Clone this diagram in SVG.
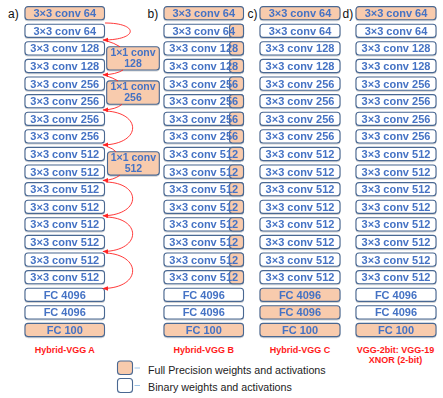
<svg xmlns="http://www.w3.org/2000/svg" width="443" height="398" viewBox="0 0 443 398">
<defs>
<style>
.b{fill:#ffffff;stroke:#4a6892;stroke-width:1.1}
.o{fill:#f8cbad;stroke:#4a6892;stroke-width:1.1}
.t{font-family:"Liberation Sans",Arial,sans-serif;font-weight:bold;font-size:11px;fill:#4472c4;text-anchor:middle}
.s{font-size:10.5px}
.lab{font-family:"Liberation Sans",Arial,sans-serif;font-size:12px;fill:#111}
.ttl{font-family:"Liberation Sans",Arial,sans-serif;font-weight:bold;font-size:9px;fill:#ff1a1a;text-anchor:middle}
.leg{font-family:"Liberation Sans",Arial,sans-serif;font-size:10.7px;fill:#222}
.c{fill:none;stroke:#f22;stroke-width:0.9}
.d{stroke:#9dc3e6;stroke-width:1}
</style>
<filter id="sh" x="-10%" y="-20%" width="120%" height="150%"><feDropShadow dx="0" dy="0.8" stdDeviation="0.6" flood-color="#000" flood-opacity="0.22"/></filter>
<marker id="ah" viewBox="0 0 10 10" refX="9" refY="5" markerWidth="6" markerHeight="6" markerUnits="userSpaceOnUse" orient="auto"><path d="M0,1 L10,5 L0,9z" fill="#f22"/></marker>
</defs>
<rect width="443" height="398" fill="#fff"/>
<text class="lab" x="8" y="17.5">a)</text>
<text class="lab" x="147.5" y="17.5">b)</text>
<text class="lab" x="247.5" y="17.5">c)</text>
<text class="lab" x="342.5" y="17.5">d)</text>

<g id="colA" filter="url(#sh)">
<g id="a0"><rect class="o" x="25" y="6.6" width="79.5" height="13.2" rx="3"/><text class="t" x="64.75" y="17.1">3×3 conv 64</text></g>
<g id="a1"><rect class="b" x="25" y="24.2" width="79.5" height="13.2" rx="3"/><text class="t" x="64.75" y="34.7">3×3 conv 64</text></g>
<g id="a2"><rect class="b" x="25" y="41.8" width="79.5" height="13.2" rx="3"/><text class="t" x="64.75" y="52.3">3×3 conv 128</text></g>
<g id="a3"><rect class="b" x="25" y="59.4" width="79.5" height="13.2" rx="3"/><text class="t" x="64.75" y="69.9">3×3 conv 128</text></g>
<g id="a4"><rect class="b" x="25" y="77" width="79.5" height="13.2" rx="3"/><text class="t" x="64.75" y="87.5">3×3 conv 256</text></g>
<g id="a5"><rect class="b" x="25" y="94.6" width="79.5" height="13.2" rx="3"/><text class="t" x="64.75" y="105.1">3×3 conv 256</text></g>
<g id="a6"><rect class="b" x="25" y="112.2" width="79.5" height="13.2" rx="3"/><text class="t" x="64.75" y="122.7">3×3 conv 256</text></g>
<g id="a7"><rect class="b" x="25" y="129.8" width="79.5" height="13.2" rx="3"/><text class="t" x="64.75" y="140.3">3×3 conv 256</text></g>
<g id="a8"><rect class="b" x="25" y="147.4" width="79.5" height="13.2" rx="3"/><text class="t" x="64.75" y="157.9">3×3 conv 512</text></g>
<g id="a9"><rect class="b" x="25" y="165" width="79.5" height="13.2" rx="3"/><text class="t" x="64.75" y="175.5">3×3 conv 512</text></g>
<g id="a10"><rect class="b" x="25" y="182.6" width="79.5" height="13.2" rx="3"/><text class="t" x="64.75" y="193.1">3×3 conv 512</text></g>
<g id="a11"><rect class="b" x="25" y="200.2" width="79.5" height="13.2" rx="3"/><text class="t" x="64.75" y="210.7">3×3 conv 512</text></g>
<g id="a12"><rect class="b" x="25" y="217.8" width="79.5" height="13.2" rx="3"/><text class="t" x="64.75" y="228.3">3×3 conv 512</text></g>
<g id="a13"><rect class="b" x="25" y="235.4" width="79.5" height="13.2" rx="3"/><text class="t" x="64.75" y="245.9">3×3 conv 512</text></g>
<g id="a14"><rect class="b" x="25" y="253" width="79.5" height="13.2" rx="3"/><text class="t" x="64.75" y="263.5">3×3 conv 512</text></g>
<g id="a15"><rect class="b" x="25" y="270.6" width="79.5" height="13.2" rx="3"/><text class="t" x="64.75" y="281.1">3×3 conv 512</text></g>
<g id="a16"><rect class="b" x="25" y="288.2" width="79.5" height="13.2" rx="3"/><text class="t" x="64.75" y="298.7">FC 4096</text></g>
<g id="a17"><rect class="b" x="25" y="305.8" width="79.5" height="13.2" rx="3"/><text class="t" x="64.75" y="316.3">FC 4096</text></g>
<g id="a18"><rect class="o" x="25" y="323.4" width="79.5" height="13.2" rx="3"/><text class="t" x="64.75" y="333.9">FC 100</text></g>
<g id="p128"><rect class="o" x="106.7" y="46.7" width="52.6" height="23.3" rx="3"/><text class="t s" x="133" y="55.6">1×1 conv</text><text class="t s" x="133" y="67.1">128</text></g>
<g id="p256"><rect class="o" x="106.7" y="80.9" width="52.6" height="23.4" rx="3"/><text class="t s" x="133" y="89.8">1×1 conv</text><text class="t s" x="133" y="101.3">256</text></g>
<g id="p512"><rect class="o" x="107.5" y="151.8" width="51.8" height="23.3" rx="3"/><text class="t s" x="133.4" y="160.7">1×1 conv</text><text class="t s" x="133.4" y="172.2">512</text></g>
</g>

<g id="colB" filter="url(#sh)">
<g id="b0"><rect class="o" x="164" y="6.6" width="79.5" height="13.2" rx="3"/><text class="t" x="203.75" y="17.1">3×3 conv 64</text></g>
<g id="b1"><rect class="b" x="164" y="24.2" width="79.5" height="13.2" rx="3"/><rect class="o" x="229.5" y="24.2" width="14" height="13.2" rx="3"/><text class="t" x="203.75" y="34.7">3×3 conv 64</text></g>
<g id="b2"><rect class="b" x="164" y="41.8" width="79.5" height="13.2" rx="3"/><rect class="o" x="229.5" y="41.8" width="14" height="13.2" rx="3"/><text class="t" x="203.75" y="52.3">3×3 conv 128</text></g>
<g id="b3"><rect class="b" x="164" y="59.4" width="79.5" height="13.2" rx="3"/><rect class="o" x="229.5" y="59.4" width="14" height="13.2" rx="3"/><text class="t" x="203.75" y="69.9">3×3 conv 128</text></g>
<g id="b4"><rect class="b" x="164" y="77" width="79.5" height="13.2" rx="3"/><rect class="o" x="229.5" y="77" width="14" height="13.2" rx="3"/><text class="t" x="203.75" y="87.5">3×3 conv 256</text></g>
<g id="b5"><rect class="b" x="164" y="94.6" width="79.5" height="13.2" rx="3"/><rect class="o" x="229.5" y="94.6" width="14" height="13.2" rx="3"/><text class="t" x="203.75" y="105.1">3×3 conv 256</text></g>
<g id="b6"><rect class="b" x="164" y="112.2" width="79.5" height="13.2" rx="3"/><rect class="o" x="229.5" y="112.2" width="14" height="13.2" rx="3"/><text class="t" x="203.75" y="122.7">3×3 conv 256</text></g>
<g id="b7"><rect class="b" x="164" y="129.8" width="79.5" height="13.2" rx="3"/><rect class="o" x="229.5" y="129.8" width="14" height="13.2" rx="3"/><text class="t" x="203.75" y="140.3">3×3 conv 256</text></g>
<g id="b8"><rect class="b" x="164" y="147.4" width="79.5" height="13.2" rx="3"/><rect class="o" x="229.5" y="147.4" width="14" height="13.2" rx="3"/><text class="t" x="203.75" y="157.9">3×3 conv 512</text></g>
<g id="b9"><rect class="b" x="164" y="165" width="79.5" height="13.2" rx="3"/><rect class="o" x="229.5" y="165" width="14" height="13.2" rx="3"/><text class="t" x="203.75" y="175.5">3×3 conv 512</text></g>
<g id="b10"><rect class="b" x="164" y="182.6" width="79.5" height="13.2" rx="3"/><rect class="o" x="229.5" y="182.6" width="14" height="13.2" rx="3"/><text class="t" x="203.75" y="193.1">3×3 conv 512</text></g>
<g id="b11"><rect class="b" x="164" y="200.2" width="79.5" height="13.2" rx="3"/><rect class="o" x="229.5" y="200.2" width="14" height="13.2" rx="3"/><text class="t" x="203.75" y="210.7">3×3 conv 512</text></g>
<g id="b12"><rect class="b" x="164" y="217.8" width="79.5" height="13.2" rx="3"/><rect class="o" x="229.5" y="217.8" width="14" height="13.2" rx="3"/><text class="t" x="203.75" y="228.3">3×3 conv 512</text></g>
<g id="b13"><rect class="b" x="164" y="235.4" width="79.5" height="13.2" rx="3"/><rect class="o" x="229.5" y="235.4" width="14" height="13.2" rx="3"/><text class="t" x="203.75" y="245.9">3×3 conv 512</text></g>
<g id="b14"><rect class="b" x="164" y="253" width="79.5" height="13.2" rx="3"/><rect class="o" x="229.5" y="253" width="14" height="13.2" rx="3"/><text class="t" x="203.75" y="263.5">3×3 conv 512</text></g>
<g id="b15"><rect class="b" x="164" y="270.6" width="79.5" height="13.2" rx="3"/><rect class="o" x="229.5" y="270.6" width="14" height="13.2" rx="3"/><text class="t" x="203.75" y="281.1">3×3 conv 512</text></g>
<g id="b16"><rect class="b" x="164" y="288.2" width="79.5" height="13.2" rx="3"/><text class="t" x="203.75" y="298.7">FC 4096</text></g>
<g id="b17"><rect class="b" x="164" y="305.8" width="79.5" height="13.2" rx="3"/><text class="t" x="203.75" y="316.3">FC 4096</text></g>
<g id="b18"><rect class="o" x="164" y="323.4" width="79.5" height="13.2" rx="3"/><text class="t" x="203.75" y="333.9">FC 100</text></g>
</g>

<g id="colC" filter="url(#sh)">
<g id="c0"><rect class="o" x="260" y="6.6" width="80" height="13.2" rx="3"/><text class="t" x="300" y="17.1">3×3 conv 64</text></g>
<g id="c1"><rect class="b" x="260" y="24.2" width="80" height="13.2" rx="3"/><text class="t" x="300" y="34.7">3×3 conv 64</text></g>
<g id="c2"><rect class="b" x="260" y="41.8" width="80" height="13.2" rx="3"/><text class="t" x="300" y="52.3">3×3 conv 128</text></g>
<g id="c3"><rect class="b" x="260" y="59.4" width="80" height="13.2" rx="3"/><text class="t" x="300" y="69.9">3×3 conv 128</text></g>
<g id="c4"><rect class="b" x="260" y="77" width="80" height="13.2" rx="3"/><text class="t" x="300" y="87.5">3×3 conv 256</text></g>
<g id="c5"><rect class="b" x="260" y="94.6" width="80" height="13.2" rx="3"/><text class="t" x="300" y="105.1">3×3 conv 256</text></g>
<g id="c6"><rect class="b" x="260" y="112.2" width="80" height="13.2" rx="3"/><text class="t" x="300" y="122.7">3×3 conv 256</text></g>
<g id="c7"><rect class="b" x="260" y="129.8" width="80" height="13.2" rx="3"/><text class="t" x="300" y="140.3">3×3 conv 256</text></g>
<g id="c8"><rect class="b" x="260" y="147.4" width="80" height="13.2" rx="3"/><text class="t" x="300" y="157.9">3×3 conv 512</text></g>
<g id="c9"><rect class="b" x="260" y="165" width="80" height="13.2" rx="3"/><text class="t" x="300" y="175.5">3×3 conv 512</text></g>
<g id="c10"><rect class="b" x="260" y="182.6" width="80" height="13.2" rx="3"/><text class="t" x="300" y="193.1">3×3 conv 512</text></g>
<g id="c11"><rect class="b" x="260" y="200.2" width="80" height="13.2" rx="3"/><text class="t" x="300" y="210.7">3×3 conv 512</text></g>
<g id="c12"><rect class="b" x="260" y="217.8" width="80" height="13.2" rx="3"/><text class="t" x="300" y="228.3">3×3 conv 512</text></g>
<g id="c13"><rect class="b" x="260" y="235.4" width="80" height="13.2" rx="3"/><text class="t" x="300" y="245.9">3×3 conv 512</text></g>
<g id="c14"><rect class="b" x="260" y="253" width="80" height="13.2" rx="3"/><text class="t" x="300" y="263.5">3×3 conv 512</text></g>
<g id="c15"><rect class="b" x="260" y="270.6" width="80" height="13.2" rx="3"/><text class="t" x="300" y="281.1">3×3 conv 512</text></g>
<g id="c16"><rect class="o" x="260" y="288.2" width="80" height="13.2" rx="3"/><text class="t" x="300" y="298.7">FC 4096</text></g>
<g id="c17"><rect class="o" x="260" y="305.8" width="80" height="13.2" rx="3"/><text class="t" x="300" y="316.3">FC 4096</text></g>
<g id="c18"><rect class="o" x="260" y="323.4" width="80" height="13.2" rx="3"/><text class="t" x="300" y="333.9">FC 100</text></g>
</g>

<g id="colD" filter="url(#sh)">
<g id="d0"><rect class="o" x="356" y="6.6" width="80" height="13.2" rx="3"/><text class="t" x="396" y="17.1">3×3 conv 64</text></g>
<g id="d1"><rect class="b" x="356" y="24.2" width="80" height="13.2" rx="3"/><text class="t" x="396" y="34.7">3×3 conv 64</text></g>
<g id="d2"><rect class="b" x="356" y="41.8" width="80" height="13.2" rx="3"/><text class="t" x="396" y="52.3">3×3 conv 128</text></g>
<g id="d3"><rect class="b" x="356" y="59.4" width="80" height="13.2" rx="3"/><text class="t" x="396" y="69.9">3×3 conv 128</text></g>
<g id="d4"><rect class="b" x="356" y="77" width="80" height="13.2" rx="3"/><text class="t" x="396" y="87.5">3×3 conv 256</text></g>
<g id="d5"><rect class="b" x="356" y="94.6" width="80" height="13.2" rx="3"/><text class="t" x="396" y="105.1">3×3 conv 256</text></g>
<g id="d6"><rect class="b" x="356" y="112.2" width="80" height="13.2" rx="3"/><text class="t" x="396" y="122.7">3×3 conv 256</text></g>
<g id="d7"><rect class="b" x="356" y="129.8" width="80" height="13.2" rx="3"/><text class="t" x="396" y="140.3">3×3 conv 256</text></g>
<g id="d8"><rect class="b" x="356" y="147.4" width="80" height="13.2" rx="3"/><text class="t" x="396" y="157.9">3×3 conv 512</text></g>
<g id="d9"><rect class="b" x="356" y="165" width="80" height="13.2" rx="3"/><text class="t" x="396" y="175.5">3×3 conv 512</text></g>
<g id="d10"><rect class="b" x="356" y="182.6" width="80" height="13.2" rx="3"/><text class="t" x="396" y="193.1">3×3 conv 512</text></g>
<g id="d11"><rect class="b" x="356" y="200.2" width="80" height="13.2" rx="3"/><text class="t" x="396" y="210.7">3×3 conv 512</text></g>
<g id="d12"><rect class="b" x="356" y="217.8" width="80" height="13.2" rx="3"/><text class="t" x="396" y="228.3">3×3 conv 512</text></g>
<g id="d13"><rect class="b" x="356" y="235.4" width="80" height="13.2" rx="3"/><text class="t" x="396" y="245.9">3×3 conv 512</text></g>
<g id="d14"><rect class="b" x="356" y="253" width="80" height="13.2" rx="3"/><text class="t" x="396" y="263.5">3×3 conv 512</text></g>
<g id="d15"><rect class="b" x="356" y="270.6" width="80" height="13.2" rx="3"/><text class="t" x="396" y="281.1">3×3 conv 512</text></g>
<g id="d16"><rect class="b" x="356" y="288.2" width="80" height="13.2" rx="3"/><text class="t" x="396" y="298.7">FC 4096</text></g>
<g id="d17"><rect class="b" x="356" y="305.8" width="80" height="13.2" rx="3"/><text class="t" x="396" y="316.3">FC 4096</text></g>
<g id="d18"><rect class="o" x="356" y="323.4" width="80" height="13.2" rx="3"/><text class="t" x="396" y="333.9">FC 100</text></g>
</g>

<g id="connectors">
<path class="c" d="M105,23 C139,23 139,40 103,40" marker-end="url(#ah)"/>
<path class="c" d="M107,41 Q114,43 120,46.7"/>
<path class="c" d="M123,70 Q116,74.5 103,74.8" marker-end="url(#ah)"/>
<path class="c" d="M107,76 Q113,78 118,80.9"/>
<path class="c" d="M122,104.3 Q116,109.5 103,110" marker-end="url(#ah)"/>
<path class="c" d="M106,111 C142,113 142,144 103,145" marker-end="url(#ah)"/>
<path class="c" d="M107,146.5 Q113,148.5 116,151.8"/>
<path class="c" d="M120,175.1 Q114,180 103,180.5" marker-end="url(#ah)"/>
<path class="c" d="M106,182 C142,183 142,215 103,215.8" marker-end="url(#ah)"/>
<path class="c" d="M106,217 C142,218 142,251 103,251.5" marker-end="url(#ah)"/>
<path class="c" d="M106,253 C142,255 142,288 103,288.5" marker-end="url(#ah)"/>
</g>

<g id="titles">
<text class="ttl" x="64.75" y="353">Hybrid-VGG A</text>
<text class="ttl" x="203.75" y="353">Hybrid-VGG B</text>
<text class="ttl" x="300" y="353">Hybrid-VGG C</text>
<text class="ttl" x="395.5" y="352.5">VGG-2bit: VGG-19</text>
<text class="ttl" x="395.5" y="362.5">XNOR (2-bit)</text>
</g>

<g id="legend">
<g id="legFP"><rect class="o" x="117.5" y="361" width="15" height="13.5" rx="3"/><line class="d" x1="134.5" y1="368" x2="140" y2="368"/><text class="leg" x="148" y="373.5">Full Precision weights and activations</text></g>
<g id="legBin"><rect class="b" x="117.5" y="378.5" width="15" height="14" rx="3"/><line class="d" x1="134.5" y1="385.5" x2="140" y2="385.5"/><text class="leg" x="148" y="390.5">Binary weights and activations</text></g>
</g>
</svg>
